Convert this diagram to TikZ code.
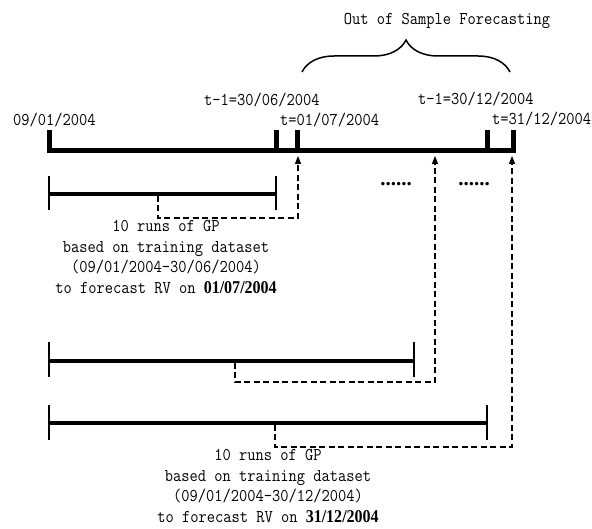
\documentclass[tikz,border=0pt]{standalone}
\usepackage{fontspec}
\newfontfamily\datefont{Liberation Serif}
\usetikzlibrary{arrows.meta,decorations.pathreplacing}

\begin{document}
\begin{tikzpicture}[x=1pt,y=1pt,>={Triangle[length=8pt,width=6pt]},line join=miter,
  lbl/.style={font=\fontsize{18}{20.6}\selectfont\ttfamily,inner sep=0pt,xscale=0.89},
  dots/.style={anchor=base,inner sep=0pt,font=\fontsize{21}{20}\selectfont\datefont\bfseries},
  mainline/.style={line width=5pt},
  trainbar/.style={line width=3.2pt},
  bartick/.style={line width=1.8pt},
  feed/.style={dash pattern=on 6pt off 3.5pt,line width=1.4pt}]
\useasboundingbox (0,0) rectangle (592,-529);
% main time line
\draw[mainline] (49,-130) -- (49,-151) -- (513,-151) -- (513,-130);
\foreach \x in {276,297,487} \draw[mainline] (\x,-130) -- (\x,-151);
\node[lbl,anchor=base west] (start) at (13,-126) {09/01/2004};
\node[lbl,anchor=base west] (prevA) at (204,-106) {t-1=30/06/2004};
\node[lbl,anchor=base west] (nowA) at (280,-126) {t=01/07/2004};
\node[lbl,anchor=base west] (prevB) at (418,-105) {t-1=30/12/2004};
\node[lbl,anchor=base west] (nowB) at (492,-125) {t=31/12/2004};
% out of sample part
\draw[line width=1.5pt,decorate,decoration={brace,amplitude=32pt}] (302,-72) -- (510,-72);
\node[lbl,anchor=base] (oos) at (447,-25) {Out of Sample Forecasting};
\node[dots] (dotsA) at (396,-186) {......};
\node[dots] (dotsB) at (474,-186) {......};
% training windows
\draw[trainbar] (49,-194) -- (276,-194);
\draw[bartick] (49,-176) -- (49,-210) (276,-176) -- (276,-210);
\draw[trainbar] (49,-361) -- (414,-361);
\draw[bartick] (49,-342) -- (49,-377) (414,-342) -- (414,-377);
\draw[trainbar] (49,-423) -- (487,-423);
\draw[bartick] (49,-405) -- (49,-440) (487,-405) -- (487,-440);
\coordinate (runA) at (158,-195.6);
\coordinate (runB) at (235,-362.6);
\coordinate (runC) at (275,-424.6);
\coordinate (hitA) at (298,-156);
\coordinate (hitB) at (435,-156);
\coordinate (hitC) at (512,-156);
\draw[feed,->] (runA) -- (158,-218) -| (hitA);
\draw[feed,->] (runB) -- (235,-382) -| (hitB);
\draw[feed,->] (runC) -- (275,-447) -| (hitC);
\node[lbl,anchor=north,align=center] (gpA) at (166,-220)
  {10 runs of GP\\based on training dataset\\(09/01/2004-30/06/2004)\\to forecast RV on {\fontsize{18}{20}\datefont\bfseries 01/07/2004}};
\node[lbl,anchor=north,align=center] (gpB) at (268,-449)
  {10 runs of GP\\based on training dataset\\(09/01/2004-30/12/2004)\\to forecast RV on {\fontsize{18}{20}\datefont\bfseries 31/12/2004}};
\end{tikzpicture}
\end{document}
